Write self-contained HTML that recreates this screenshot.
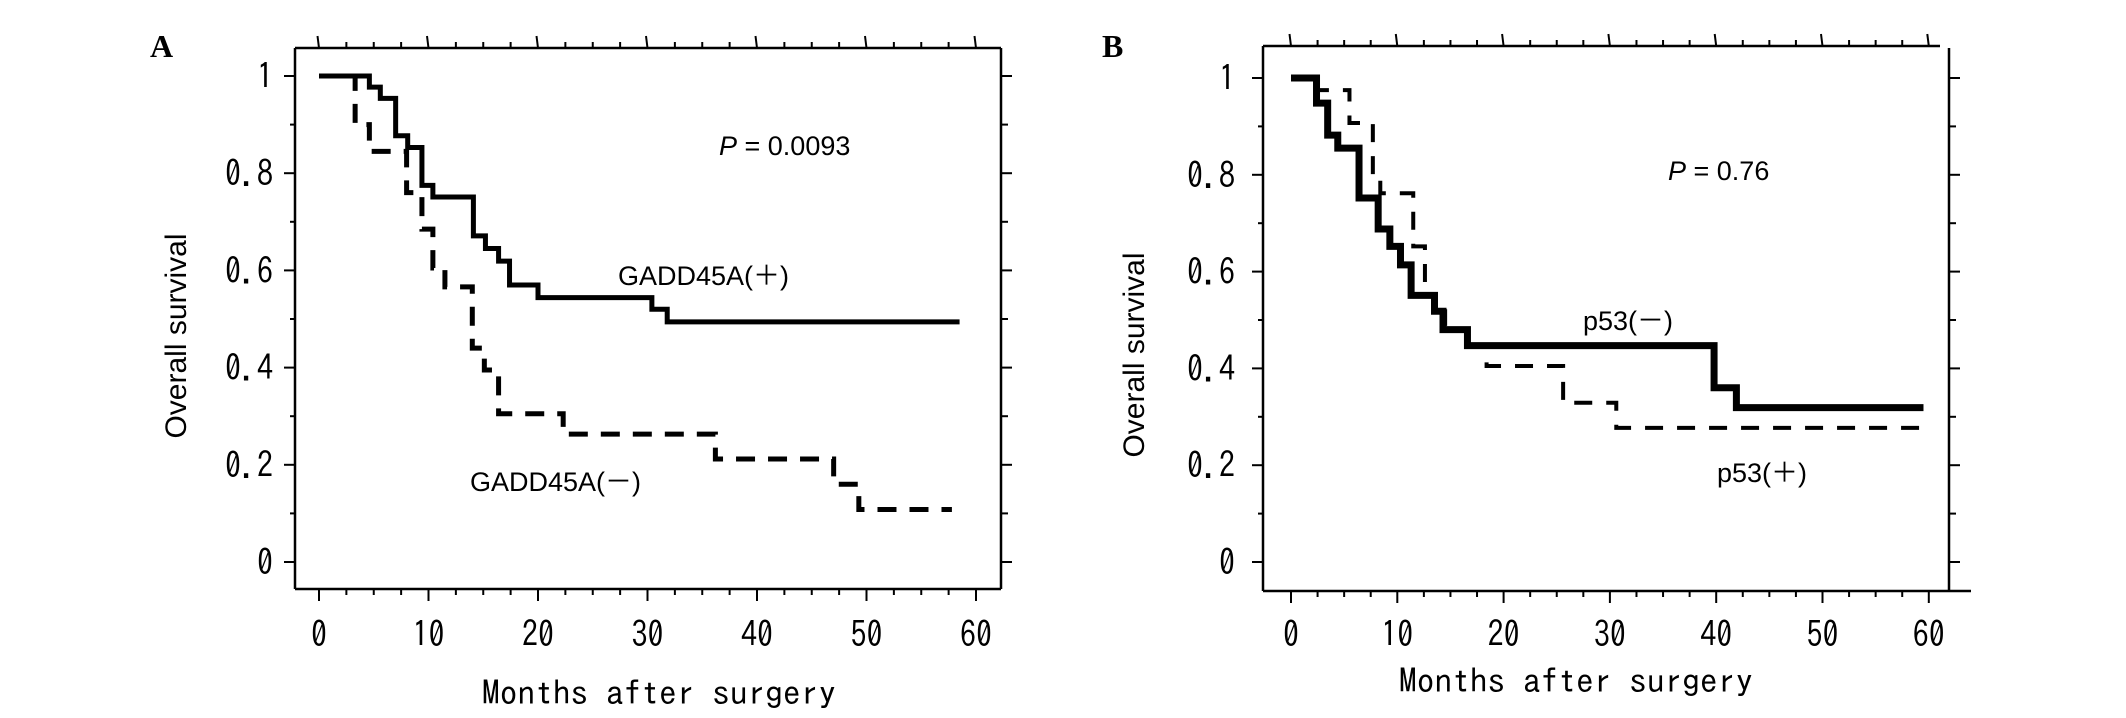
<!DOCTYPE html>
<html><head><meta charset="utf-8"><style>
html,body{margin:0;padding:0;background:#fff;}
svg{display:block;}
.tick{font-family:"IPAGothic","Liberation Mono",monospace;font-size:36px;fill:#000;}
.ttl{font-family:"IPAGothic","Liberation Mono",monospace;font-size:34px;fill:#000;}
.ann{font-family:"Liberation Sans","Noto Sans CJK JP",sans-serif;font-size:27px;fill:#000;}
</style></head><body>
<svg id="fig" width="2126" height="718" viewBox="0 0 2126 718" xmlns="http://www.w3.org/2000/svg">
<rect width="2126" height="718" fill="#fff"/>
</svg>
<script>
// Panel A data
const aPosTimes = [0, 4.6, 5.6, 7.0, 8.1, 9.4, 10.4, 14.1, 15.2, 16.4, 17.4, 20.0, 30.4, 31.8, 58.5];
const aPosSurv  = [1.0, 0.977, 0.954, 0.877, 0.853, 0.775, 0.751, 0.671, 0.645, 0.619, 0.57, 0.544, 0.52, 0.494, 0.494];
const aNegTimes = [0, 3.3, 4.6, 8.0, 9.4, 10.4, 11.5, 14.0, 15.1, 16.4, 22.3, 36.2, 47.0, 49.3, 57.8];
const aNegSurv  = [1.0, 0.9, 0.845, 0.76, 0.685, 0.605, 0.566, 0.44, 0.395, 0.305, 0.263, 0.212, 0.16, 0.108, 0.108];
// Panel B data
const bNegTimes = [0, 2.4, 3.45, 4.4, 6.4, 8.2, 9.3, 10.3, 11.3, 13.5, 14.3, 16.6, 39.8, 41.9, 59.5];
const bNegSurv  = [1.0, 0.948, 0.882, 0.855, 0.752, 0.688, 0.652, 0.614, 0.551, 0.518, 0.48, 0.447, 0.36, 0.319, 0.319];
const bPosTimes = [0, 2.4, 5.5, 7.7, 8.4, 11.5, 12.6, 13.6, 14.5, 16.6, 18.4, 25.6, 30.6, 59.5];
const bPosSurv  = [1.0, 0.975, 0.907, 0.8, 0.762, 0.652, 0.551, 0.518, 0.48, 0.447, 0.405, 0.329, 0.277, 0.277];
const xTicks = [0, 10, 20, 30, 40, 50, 60];
const yTicks = [0, 0.2, 0.4, 0.6, 0.8, 1];
const yTickLabels = ["0", "0.2", "0.4", "0.6", "0.8", "1"];

const NS = "http://www.w3.org/2000/svg";
const svg = document.getElementById("fig");
function el(tag, attrs, parent) {
  const e = document.createElementNS(NS, tag);
  for (const k in attrs) e.setAttribute(k, attrs[k]);
  (parent || svg).appendChild(e);
  return e;
}
function line(g, x1, y1, x2, y2, w) {
  return el("line", {x1, y1, x2, y2, stroke: "#000", "stroke-width": w || 2.5}, g);
}

function panel(cfg) {
  const g = el("g", {});
  
  
  const xs = t => cfg.x0 + t * cfg.xPer;
  const ys = v => cfg.y0 - v * cfg.yPer;
  const ax = el("g", {}, g);
  
  
  line(ax, cfg.left, cfg.top, cfg.left, cfg.bottom);
  line(ax, cfg.left, cfg.bottom, cfg.bottomEnd, cfg.bottom);
  line(ax, cfg.left, cfg.top, cfg.topEnd, cfg.top);
  line(ax, cfg.right, cfg.rtop, cfg.right, cfg.bottom);
  for (let t = 0; t <= 60; t += 2.5) {
    const X = xs(t), major = t % 10 === 0;
    line(ax, X, cfg.bottom, X, cfg.bottom + (major ? 12 : 6), 2);
    line(ax, X, cfg.top, X - (major ? 1.5 : 0), cfg.top - (major ? 12 : 6), 2);
  }
  for (let i = 0; i <= 10; i++) {
    const v = i / 10, Y = ys(v), major = i % 2 === 0;
    line(ax, cfg.left, Y, cfg.left - (major ? 11 : 5), Y, 2);
    line(ax, cfg.right, Y, cfg.right + (major ? 11 : 7), Y, 2);
  }
  xTicks.forEach(t => {
    const s = String(t);
    const tx = el("text", {x: xs(t), y: cfg.xLabY, "text-anchor": "middle", class: "tick", textLength: s.length * 16, lengthAdjust: "spacingAndGlyphs"}, g);
    tx.textContent = s;
    
    
  });
  yTicks.forEach((v, i) => {
    const s = yTickLabels[i];
    const tx = el("text", {x: cfg.yLabX, y: ys(v) + 13, "text-anchor": "end", class: "tick", textLength: s.length * 16, lengthAdjust: "spacingAndGlyphs"}, g);
    tx.textContent = s;
    
    
  });
  const xt = el("text", {x: cfg.xTitleX, y: cfg.xTitleY, "text-anchor": "middle", class: "ttl", textLength: 354, lengthAdjust: "spacingAndGlyphs"}, g);
  xt.textContent = "Months after surgery";
  
  
  const yt = el("text", {x: 0, y: 0, "text-anchor": "middle", class: "ann", style: "font-size:30px", transform: `translate(${cfg.yTitleX},${cfg.yTitleY}) rotate(-90)`}, g);
  yt.textContent = "Overall survival";
  
  
  const lt = el("text", {x: cfg.letterX, y: 57, style: "font-family:'Liberation Serif',serif;font-weight:bold;font-size:32px"}, g);
  lt.textContent = cfg.letter;
  
  
  cfg.series.forEach(s => {
    let d = "";
    for (let i = 0; i < s.t.length; i++) {
      const X = xs(s.t[i]), Y = ys(s.v[i]);
      if (i === 0) d += `M${X},${Y}`;
      else d += `H${X}V${Y}`;
    }
    const p = el("path", {d, fill: "none", stroke: "#000", "stroke-width": s.w, "stroke-dasharray": s.dash || "none", "stroke-linejoin": "miter"}, g);
    
    
  });
  cfg.anns.forEach(a => {
    const tx = el("text", {x: a.x, y: a.y, class: "ann"}, g);
    tx.innerHTML = a.html;
    
    
  });
}

panel({
  name: "panel-a", letter: "A", letterX: 150,
  x0: 319, xPer: 10.95, y0: 562, yPer: 486,
  left: 295, right: 1001, top: 48, rtop: 48, bottom: 589, topEnd: 1001, bottomEnd: 1001,
  xLabY: 647, yLabX: 273, xTitleX: 659, xTitleY: 705, yTitleX: 186, yTitleY: 336,
  series: [
    {name: "gadd45a-positive-curve", t: aPosTimes, v: aPosSurv, w: 5},
    {name: "gadd45a-negative-curve", t: aNegTimes, v: aNegSurv, w: 5, dash: "19 13"}
  ],
  anns: [
    {name: "p-value-a", x: 719, y: 155, html: '<tspan font-style="italic">P</tspan> = 0.0093'},
    {name: "gadd45a-positive-label", x: 618, y: 285, html: 'GADD45A(＋)'},
    {name: "gadd45a-negative-label", x: 470, y: 491, html: 'GADD45A(－)'}
  ]
});
panel({
  name: "panel-b", letter: "B", letterX: 1102,
  x0: 1291, xPer: 10.63, y0: 562, yPer: 484,
  left: 1263, right: 1949, top: 46, rtop: 48, bottom: 591, topEnd: 1940, bottomEnd: 1971,
  xLabY: 647, yLabX: 1235, xTitleX: 1576, xTitleY: 693, yTitleX: 1144, yTitleY: 355,
  series: [
    {name: "p53-positive-curve", t: bPosTimes, v: bPosSurv, w: 4, dash: "18 14"},
    {name: "p53-negative-curve", t: bNegTimes, v: bNegSurv, w: 7}
  ],
  anns: [
    {name: "p-value-b", x: 1668, y: 180, html: '<tspan font-style="italic">P</tspan> = 0.76'},
    {name: "p53-negative-label", x: 1583, y: 330, html: 'p53(－)'},
    {name: "p53-positive-label", x: 1717, y: 482, html: 'p53(＋)'}
  ]
});
</script>
</body></html>
